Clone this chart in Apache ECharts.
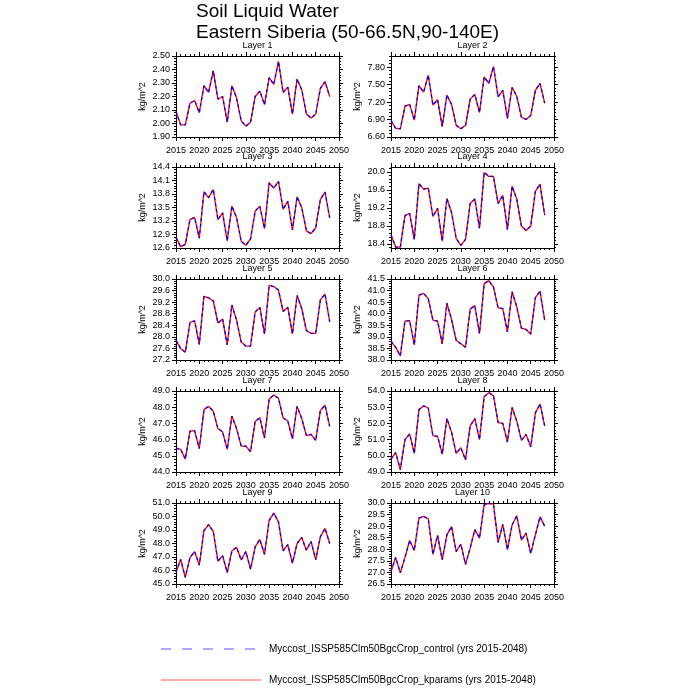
<!DOCTYPE html>
<html>
<head>
<meta charset="utf-8">
<script src="https://cdn.jsdelivr.net/npm/echarts@6/dist/echarts.min.js"></script>
<style>html,body{margin:0;padding:0;background:#fff}#c{width:700px;height:700px}</style>
</head>
<body>
<div id="c"></div>
<script>
const years = [2015,2016,2017,2018,2019,2020,2021,2022,2023,2024,2025,2026,2027,2028,2029,2030,2031,2032,2033,2034,2035,2036,2037,2038,2039,2040,2041,2042,2043,2044,2045,2046,2047,2048];
const xTicks = [2015,2020,2025,2030,2035,2040,2045,2050];
const layerNames = ['Layer 1','Layer 2','Layer 3','Layer 4','Layer 5','Layer 6','Layer 7','Layer 8','Layer 9','Layer 10'];

const kparams1 = [2.09,1.99,1.99,2.15,2.17,2.08,2.28,2.23,2.39,2.18,2.20,2.01,2.28,2.19,2.02,1.98,2.01,2.20,2.24,2.14,2.34,2.29,2.46,2.23,2.27,2.07,2.33,2.25,2.07,2.04,2.07,2.26,2.31,2.20];
const kparams2 = [6.88,6.75,6.74,7.13,7.16,6.89,7.48,7.37,7.66,7.15,7.24,6.78,7.32,7.16,6.80,6.74,6.80,7.25,7.33,7.02,7.63,7.52,7.81,7.29,7.40,6.92,7.45,7.30,6.94,6.90,6.97,7.40,7.52,7.18];
const kparams3 = [12.83,12.63,12.68,13.23,13.28,12.82,13.85,13.72,13.90,13.23,13.38,12.76,13.53,13.28,12.75,12.66,12.80,13.42,13.53,13.03,14.05,13.93,14.08,13.46,13.64,13.00,13.74,13.50,12.98,12.92,13.05,13.68,13.84,13.27];
const kparams4 = [18.60,18.33,18.33,19.03,19.08,18.50,19.74,19.62,19.64,19.01,19.19,18.46,19.41,19.10,18.52,18.37,18.50,19.30,19.40,18.75,19.99,19.90,19.90,19.30,19.48,18.72,19.68,19.40,18.80,18.70,18.80,19.57,19.73,19.04];
const kparams5 = [27.88,27.60,27.47,28.50,28.55,27.74,29.40,29.35,29.24,28.48,28.62,27.72,29.10,28.58,27.82,27.68,27.68,28.86,29.02,28.10,29.78,29.74,29.62,28.88,29.02,28.10,29.43,28.98,28.22,28.12,28.12,29.28,29.48,28.52];
const kparams6 = [38.82,38.55,38.18,39.68,39.70,38.65,40.80,40.88,40.65,39.72,39.68,38.70,40.45,39.75,38.85,38.70,38.55,40.20,40.35,39.15,41.30,41.43,41.15,40.25,40.22,39.22,40.95,40.30,39.38,39.32,39.12,40.70,40.98,39.72];
const kparams7 = [45.47,45.40,44.80,46.52,46.55,45.45,47.85,48.05,47.75,46.68,46.48,45.40,47.45,46.68,45.60,45.60,45.25,47.12,47.35,46.10,48.50,48.75,48.55,47.35,47.15,46.05,48.05,47.30,46.25,46.32,45.95,47.80,48.12,46.82];
const kparams8 = [49.80,50.20,49.15,51.00,51.35,50.15,52.85,53.08,52.95,51.25,51.20,50.10,52.30,51.45,50.15,50.50,49.75,51.85,52.30,51.00,53.65,53.90,53.70,52.05,52.00,50.85,52.98,52.15,50.95,51.32,50.55,52.65,53.20,51.85];
const kparams9 = [45.88,46.82,45.50,46.95,47.40,46.40,48.95,49.40,48.90,46.68,47.10,45.85,47.45,47.72,46.78,47.40,46.10,47.75,48.30,47.20,49.72,50.25,49.60,47.45,47.92,46.55,48.00,48.45,47.50,48.15,46.80,48.50,49.12,48.00];
const kparams10 = [27.05,27.65,26.98,27.65,28.38,27.95,29.35,29.42,29.32,27.78,28.60,27.55,28.62,28.98,27.90,28.22,27.35,28.05,28.85,28.48,29.92,29.98,29.95,28.30,29.08,27.98,29.05,29.45,28.40,28.70,27.82,28.62,29.40,29.00];

// control run is visually indistinguishable from kparams in the picture
const control1 = kparams1.slice(), control2 = kparams2.slice(), control3 = kparams3.slice(), control4 = kparams4.slice(), control5 = kparams5.slice();
const control6 = kparams6.slice(), control7 = kparams7.slice(), control8 = kparams8.slice(), control9 = kparams9.slice(), control10 = kparams10.slice();

// y tick labels per panel
const yTicks1 = [1.90,2.00,2.10,2.20,2.30,2.40,2.50];
const yTicks2 = [6.60,6.90,7.20,7.50,7.80];
const yTicks3 = [12.6,12.9,13.2,13.5,13.8,14.1,14.4];
const yTicks4 = [18.4,18.8,19.2,19.6,20.0];
const yTicks5 = [27.2,27.6,28.0,28.4,28.8,29.2,29.6,30.0];
const yTicks6 = [38.0,38.5,39.0,39.5,40.0,40.5,41.0,41.5];
const yTicks7 = [44.0,45.0,46.0,47.0,48.0,49.0];
const yTicks8 = [49.0,50.0,51.0,52.0,53.0,54.0];
const yTicks9 = [45.0,46.0,47.0,48.0,49.0,50.0,51.0];
const yTicks10 = [26.5,27.0,27.5,28.0,28.5,29.0,29.5,30.0];

const kparamsAll = [kparams1,kparams2,kparams3,kparams4,kparams5,kparams6,kparams7,kparams8,kparams9,kparams10];
const controlAll = [control1,control2,control3,control4,control5,control6,control7,control8,control9,control10];
const yTicksAll = [yTicks1,yTicks2,yTicks3,yTicks4,yTicks5,yTicks6,yTicks7,yTicks8,yTicks9,yTicks10];
const yRange = [[1.9,2.5],[6.6,7.99],[12.6,14.4],[18.31,20.11],[27.2,30.0],[38.0,41.5],[44.0,49.0],[49.0,54.0],[45.0,51.0],[26.5,30.0]];
const yDec = [2,2,1,1,1,1,1,1,1,1];

const FONT = 'Liberation Sans';
const colLeft = [176, 391];
const rowTop = [56, 167, 279, 391, 503];
const W = 163, H = 81;
const MINOR = 5;

function minorVals(ticks, mn, mx) {
  const step = ticks[1] - ticks[0];
  const out = [];
  for (let k = -1; k < ticks.length; k++) {
    const base = ticks[0] + k * step;
    for (let j = 1; j < MINOR; j++) {
      const v = +(base + j * step / MINOR).toFixed(6);
      if (v > mn + 1e-9 && v < mx - 1e-9) out.push(v);
    }
  }
  return out;
}

const grids = [], xAxes = [], yAxes = [], series = [], graphics = [];
for (let i = 0; i < 10; i++) {
  const col = i % 2, row = Math.floor(i / 2);
  grids.push({left: colLeft[col], top: rowTop[row], width: W, height: H, containLabel: false});
  const lineS = {show: true, lineStyle: {color: '#000', width: 1}};
  const xBase = {type: 'value', gridIndex: i, min: 2015, max: 2050, interval: 5, splitLine: {show: false},
    axisLine: lineS, axisTick: {show: true, length: 4, lineStyle: {color: '#000'}},
    minorTick: {show: true, splitNumber: MINOR, length: 2, lineStyle: {color: '#000'}}};
  const xi = xAxes.length;
  xAxes.push(Object.assign({}, xBase, {position: 'bottom',
    axisLabel: {show: true, fontFamily: FONT, fontSize: 9, color: '#000', margin: 9, formatter: v => String(v)}}));
  xAxes.push(Object.assign({}, xBase, {position: 'top', axisLabel: {show: false}}));
  const [mn, mx] = yRange[i];
  const ticks = yTicksAll[i];
  const minors = minorVals(ticks, mn, mx);
  const dec = yDec[i];
  const yi = yAxes.length;
  const yBase = {type: 'value', gridIndex: i, min: mn, max: mx, splitLine: {show: false}};
  yAxes.push(Object.assign({}, yBase, {position: 'left', axisLine: lineS,
    axisTick: {show: true, length: 4, customValues: ticks, lineStyle: {color: '#000'}},
    axisLabel: {show: true, customValues: ticks, fontFamily: FONT, fontSize: 9, color: '#000', margin: 6,
      formatter: v => Number(v).toFixed(dec)},
    name: 'kg/m^2', nameLocation: 'middle', nameGap: 29, nameRotate: 90,
    nameTextStyle: {fontFamily: FONT, fontSize: 9, color: '#000'}}));
  yAxes.push(Object.assign({}, yBase, {position: 'left', axisLine: {show: false},
    axisTick: {show: true, length: 2, customValues: minors, lineStyle: {color: '#000'}},
    axisLabel: {show: false}}));
  yAxes.push(Object.assign({}, yBase, {position: 'right', axisLine: lineS,
    axisTick: {show: true, length: 4, customValues: ticks, lineStyle: {color: '#000'}},
    axisLabel: {show: false}}));
  yAxes.push(Object.assign({}, yBase, {position: 'right', axisLine: {show: false},
    axisTick: {show: true, length: 2, customValues: minors, lineStyle: {color: '#000'}},
    axisLabel: {show: false}}));
  series.push({type: 'line', name: 'kparams', xAxisIndex: xi, yAxisIndex: yi, symbol: 'none',
    data: years.map((y, k) => [y, kparamsAll[i][k]]), lineStyle: {color: '#ff0000', width: 1.3}, z: 2});
  series.push({type: 'line', name: 'control', xAxisIndex: xi, yAxisIndex: yi, symbol: 'none',
    data: years.map((y, k) => [y, controlAll[i][k]]), lineStyle: {color: '#0000ff', width: 1.3, type: [3, 3]}, z: 3});
  graphics.push({type: 'text', x: colLeft[col] + W / 2, y: rowTop[row] - 10,
    style: {text: layerNames[i], fontFamily: FONT, fontSize: 9, fill: '#000', align: 'center', verticalAlign: 'middle'}});
}

graphics.push({type: 'text', x: 196, y: 12, style: {text: 'Soil Liquid Water', fontFamily: FONT, fontSize: 19, fill: '#000', align: 'left', verticalAlign: 'middle'}});
graphics.push({type: 'text', x: 196, y: 33, style: {text: 'Eastern Siberia (50-66.5N,90-140E)', fontFamily: FONT, fontSize: 19, fill: '#000', align: 'left', verticalAlign: 'middle'}});
graphics.push({type: 'line', shape: {x1: 161, y1: 649, x2: 255, y2: 649}, style: {stroke: '#5555ff', lineWidth: 1, lineDash: [10, 11]}});
graphics.push({type: 'text', x: 269, y: 649, style: {text: 'Myccost_ISSP585Clm50BgcCrop_control (yrs 2015-2048)', fontFamily: FONT, fontSize: 10, fill: '#000', align: 'left', verticalAlign: 'middle'}});
graphics.push({type: 'line', shape: {x1: 161, y1: 680, x2: 261, y2: 680}, style: {stroke: '#ff5555', lineWidth: 1}});
graphics.push({type: 'text', x: 269, y: 680, style: {text: 'Myccost_ISSP585Clm50BgcCrop_kparams (yrs 2015-2048)', fontFamily: FONT, fontSize: 10, fill: '#000', align: 'left', verticalAlign: 'middle'}});

const chart = echarts.init(document.getElementById('c'));
chart.setOption({animation: false, backgroundColor: '#fff', grid: grids, xAxis: xAxes, yAxis: yAxes, series: series, graphic: graphics});
</script>
</body>
</html>
